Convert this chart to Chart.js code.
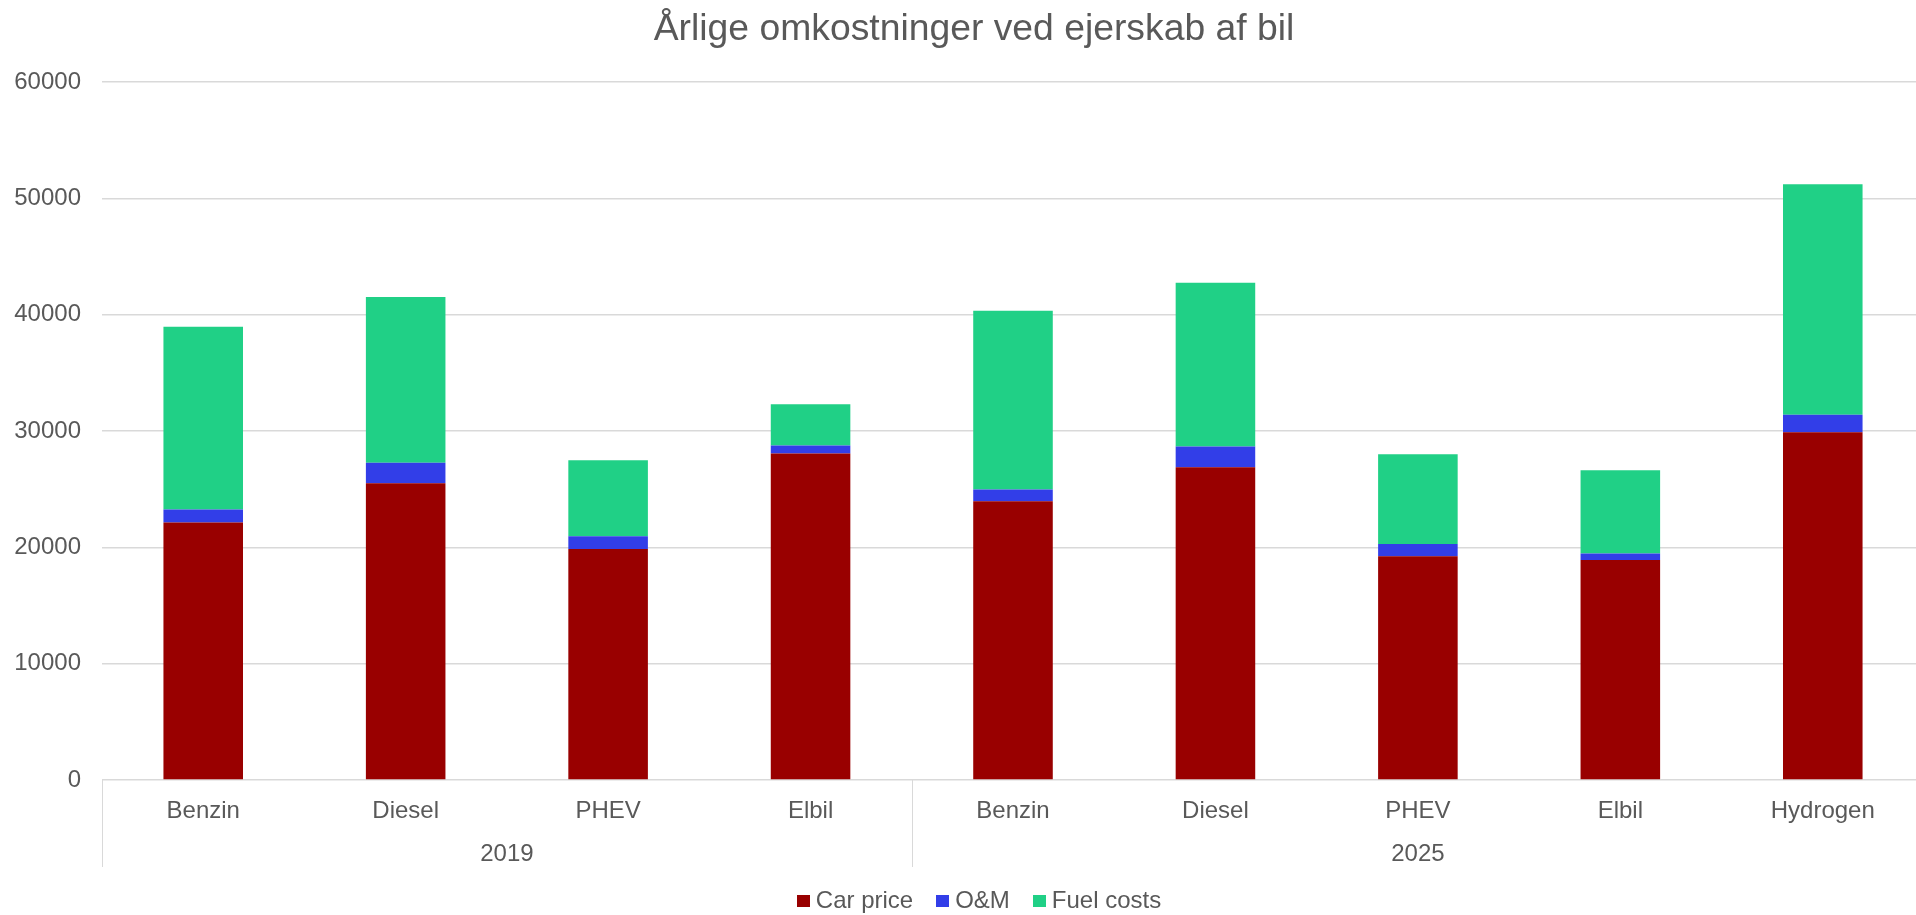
<!DOCTYPE html>
<html>
<head>
<meta charset="utf-8">
<script src="https://cdn.jsdelivr.net/npm/chart.js@4/dist/chart.umd.min.js"></script>
<style>
  html, body { margin: 0; padding: 0; background: #ffffff; overflow: hidden; }
  #wrap { position: absolute; left: 0; top: 0; width: 1948px; height: 915px; }
</style>
</head>
<body>
<div id="wrap"><canvas id="c" width="1948" height="915"></canvas></div>
<script>
const titleText = "Årlige omkostninger ved ejerskab af bil";
const categories = ["Benzin", "Diesel", "PHEV", "Elbil", "Benzin", "Diesel", "PHEV", "Elbil", "Hydrogen"];
const groups = ["2019", "2025"];
const groupSizes = [4, 5];
const seriesNames = ["Car price", "O&M", "Fuel costs"];
const carPrice = [22140, 25510, 19860, 28060, 23970, 26890, 19230, 18910, 29890];
const om = [1110, 1770, 1090, 690, 1000, 1770, 1060, 570, 1510];
const fuel = [15710, 14230, 6540, 3540, 15370, 14090, 7710, 7140, 19800];
const yTicks = [0, 10000, 20000, 30000, 40000, 50000, 60000];

const textColor = "#595959";
const gridColor = "#d9d9d9";
const fontFamily = "'Liberation Sans', Arial, sans-serif";

const groupPlugin = {
  id: "groupLabels",
  afterDraw(chart) {
    const x = chart.scales.x;
    const area = chart.chartArea;
    const ctx = chart.ctx;
    const half = (x.getPixelForValue(1) - x.getPixelForValue(0)) / 2;
    ctx.save();

    // title
    ctx.fillStyle = textColor;
    ctx.font = "37.3px " + fontFamily;
    ctx.textAlign = "center";
    ctx.textBaseline = "alphabetic";
    ctx.fillText(titleText, chart.width / 2, 39.5);

    ctx.strokeStyle = gridColor;
    ctx.lineWidth = 1;
    ctx.font = "24px " + fontFamily;
    ctx.textBaseline = "middle";
    let idx = 0;
    groups.forEach((g, gi) => {
      const n = groupSizes[gi];
      const left = x.getPixelForValue(idx) - half;
      const right = x.getPixelForValue(idx + n - 1) + half;
      [left, right].forEach(px => {
        const xx = Math.round(px) + 0.5;
        ctx.beginPath();
        ctx.moveTo(xx, area.bottom);
        ctx.lineTo(xx, area.bottom + 87);
        ctx.stroke();
      });
      ctx.fillText(g, (left + right) / 2, area.bottom + 74);
      idx += n;
    });

    // legend
    const boxW = 13, boxH = 12, boxGap = 6, itemGap = 23;
    ctx.textAlign = "left";
    ctx.textBaseline = "alphabetic";
    const items = chart.data.datasets.map(ds => ({
      label: ds.label, color: ds.backgroundColor, w: ctx.measureText(ds.label).width
    }));
    let total = 0;
    items.forEach((it, i) => { total += boxW + boxGap + it.w + (i < items.length - 1 ? itemGap : 0); });
    let lx = chart.width / 2 + 5 - total / 2;
    const baseY = 908;
    items.forEach(it => {
      ctx.fillStyle = it.color;
      ctx.fillRect(Math.round(lx), baseY - 13, boxW, boxH);
      ctx.fillStyle = textColor;
      ctx.fillText(it.label, lx + boxW + boxGap, baseY);
      lx += boxW + boxGap + it.w + itemGap;
    });
    ctx.restore();
  }
};

new Chart(document.getElementById("c"), {
  type: "bar",
  data: {
    labels: categories,
    datasets: [
      { label: seriesNames[0], data: carPrice, backgroundColor: "#990000" },
      { label: seriesNames[1], data: om, backgroundColor: "#323EE8" },
      { label: seriesNames[2], data: fuel, backgroundColor: "#20D086" }
    ]
  },
  options: {
    responsive: false,
    animation: false,
    layout: { padding: { left: 0, right: 24, top: 82, bottom: 0 } },
    datasets: { bar: { barPercentage: 0.393, categoryPercentage: 1.0 } },
    plugins: {
      title: { display: false },
      legend: { display: false },
      tooltip: { enabled: false }
    },
    scales: {
      x: {
        stacked: true,
        grid: { display: false },
        border: { display: false },
        ticks: { color: textColor, font: { family: fontFamily, size: 24 }, padding: 9, maxRotation: 0, autoSkip: false },
        afterFit(scale) { scale.height = 135; }
      },
      y: {
        stacked: true,
        min: 0,
        max: 60000,
        afterBuildTicks(scale) { scale.ticks = yTicks.map(v => ({ value: v })); },
        grid: { color: gridColor, lineWidth: 1.5, drawTicks: false },
        border: { display: false },
        ticks: { color: textColor, font: { family: fontFamily, size: 24 }, padding: 21, callback: v => String(v) },
        afterFit(scale) { scale.width = 102; }
      }
    }
  },
  plugins: [groupPlugin]
});
</script>
</body>
</html>
